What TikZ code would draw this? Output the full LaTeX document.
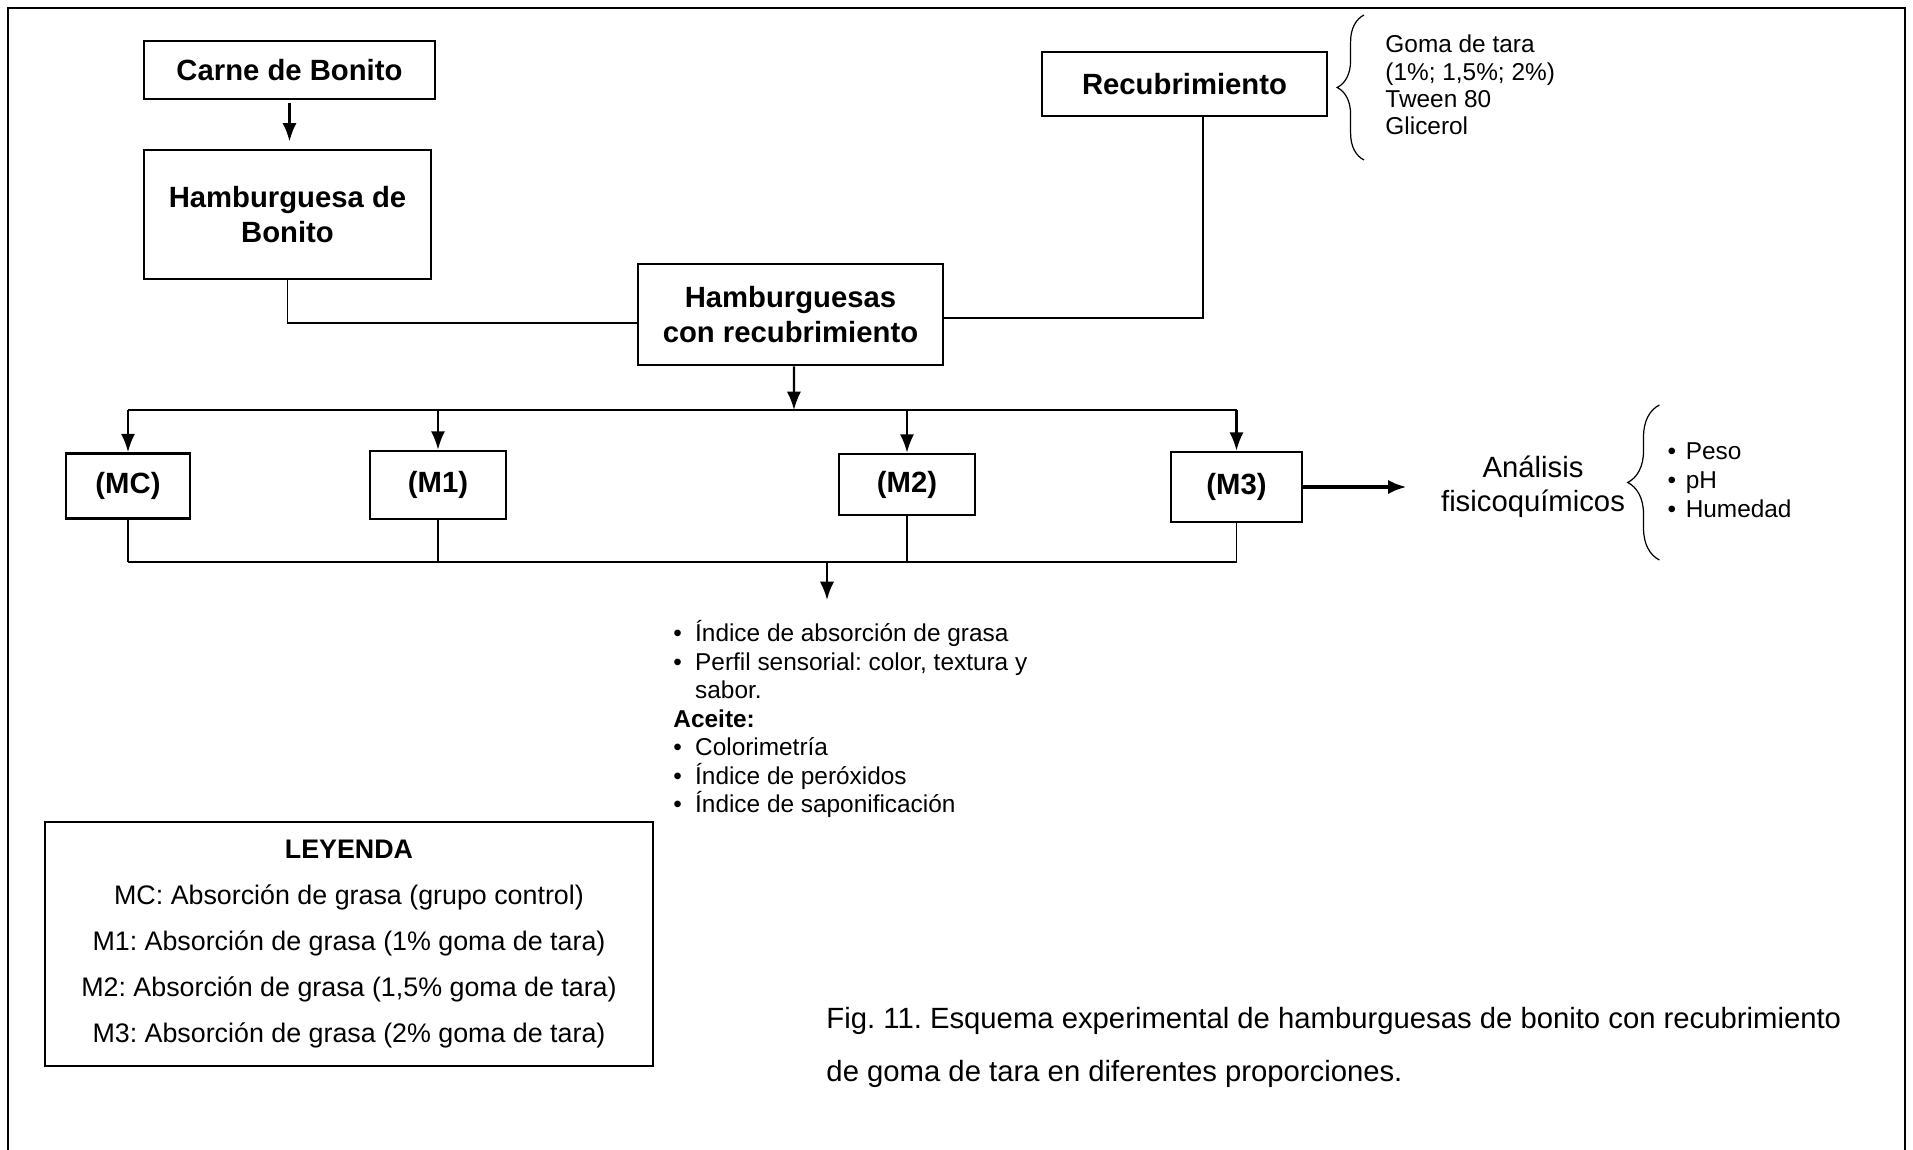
\documentclass[tikz,border=0pt]{standalone}
\usepackage{fontspec}
\setmainfont{Liberation Sans}
\usetikzlibrary{arrows.meta,positioning,decorations.pathreplacing,calc}
\newcommand{\vineta}[1][8.9pt]{\makebox[#1][l]{\textbullet}}
\frenchspacing

\begin{document}
\begin{tikzpicture}[x=0.41pt,y=-0.41pt,
  caja/.style={rectangle, draw=black, line width=1.1pt, inner sep=0pt,
    font=\fontsize{12}{14.5}\selectfont\bfseries, align=center},
  texto/.style={inner sep=0pt, align=left},
  linea/.style={line width=0.5pt},
  flecha/.style={line width=0.9pt, -{Latex[length=7.5pt,width=5.8pt]}},
  llave/.style={decorate, decoration={brace, amplitude=#1}, line width=0.5pt}]
\useasboundingbox (0,0) rectangle (1913,1150);
\draw[line width=0.6pt] (8,1150) -- (8,8) -- (1905,8) -- (1905,1150);

\node[caja, minimum width=119.3pt, minimum height=23.8pt] (carne) at (289.5,70) {Carne de Bonito};
\node[caja, minimum width=117.7pt, minimum height=52.9pt] (hamb) at (287.5,214.5) {Hamburguesa de\\Bonito};
\node[caja, minimum width=125pt, minimum height=41.4pt] (hcr) at (790.5,314.5) {Hamburguesas\\con recubrimiento};
\node[caja, minimum width=116.9pt, minimum height=26.2pt] (recub) at (1184.5,84) {Recubrimiento};
\node[texto, anchor=west, font=\fontsize{10}{11.2}\selectfont] (insumos) at (1385,85)
  {Goma de tara\\(1\%; 1,5\%; 2\%)\\Tween 80\\Glicerol};

\node[caja, minimum width=50.8pt, minimum height=26.7pt] (mc) at (128,486) {(MC)};
\node[caja, minimum width=55.8pt, minimum height=27.9pt] (m1) at (438,485) {(M1)};
\node[caja, minimum width=55.8pt, minimum height=25pt] (m2) at (907,484.5) {(M2)};
\node[caja, minimum width=53.7pt, minimum height=28.7pt] (m3) at (1236.5,487) {(M3)};

\node[inner sep=0pt, align=center, font=\fontsize{12}{14}\selectfont] (analisis) at (1533,487)
  {Análisis\\fisicoquímicos};
\node[texto, anchor=west, font=\fontsize{10}{11.9}\selectfont] (medidas) at (1667,480)
  {\vineta[7.5pt]Peso\\\vineta[7.5pt]pH\\\vineta[7.5pt]Humedad};

\node[texto, anchor=north west, font=\fontsize{10}{11.7}\selectfont] (lista) at (673,620)
  {\vineta Índice de absorción de grasa\\
   \vineta Perfil sensorial: color, textura y\\
   \hspace*{8.9pt}sabor.\\
   \textbf{Aceite:}\\
   \vineta Colorimetría\\
   \vineta Índice de peróxidos\\
   \vineta Índice de saponificación};

\node[draw, line width=1pt, minimum width=249.3pt, minimum height=100pt, inner sep=0pt,
      align=center, font=\fontsize{11}{18.9}\selectfont] (leyenda) at (349,944)
  {\textbf{LEYENDA}\\
   MC: Absorción de grasa (grupo control)\\
   M1: Absorción de grasa (1\% goma de tara)\\
   M2: Absorción de grasa (1,5\% goma de tara)\\
   M3: Absorción de grasa (2\% goma de tara)};
\node[texto, anchor=west, font=\fontsize{12}{21.7}\selectfont] (titulo) at (826,1047.5)
  {Fig. 11. Esquema experimental de hamburguesas de bonito con recubrimiento\\
   de goma de tara en diferentes proporciones.};

\coordinate (dist) at (794,410);
\coordinate (junta) at (827,562);
\coordinate (fin) at (827,600);

\draw[flecha, shorten <=1pt, shorten >=3pt] (carne.south) -- (carne.south |- hamb.north);
\draw[linea] (hamb.south) |- ([yshift=-3.5pt]hcr.west);
\draw[linea] ([yshift=-1.4pt]hcr.east) -| ([xshift=7.6pt]recub.south);
\draw[llave=11pt] ($(insumos.west)+(-21,75)$) -- ($(insumos.west)+(-21,-70)$);

\draw[flecha] ([xshift=1.4pt]hcr.south) -- (dist);
\draw[linea] (mc.north |- dist) -- (m3.north |- dist);
\foreach \m in {mc,m1,m2,m3}
  \draw[flecha] (\m.north |- dist) -- (\m.north);
\foreach \m in {mc,m1,m2,m3}
  \draw[linea] (\m.south) -- (\m.south |- junta);
\draw[linea] (mc.south |- junta) -- (m3.south |- junta);
\draw[flecha] (junta) -- (fin);

\draw[flecha, line width=1.3pt, shorten >=14pt] (m3.east) -- (analisis.west);
\draw[llave=13pt] ($(analisis.east)+(34,73)$) -- ($(analisis.east)+(34,-82)$);
\end{tikzpicture}
\end{document}
